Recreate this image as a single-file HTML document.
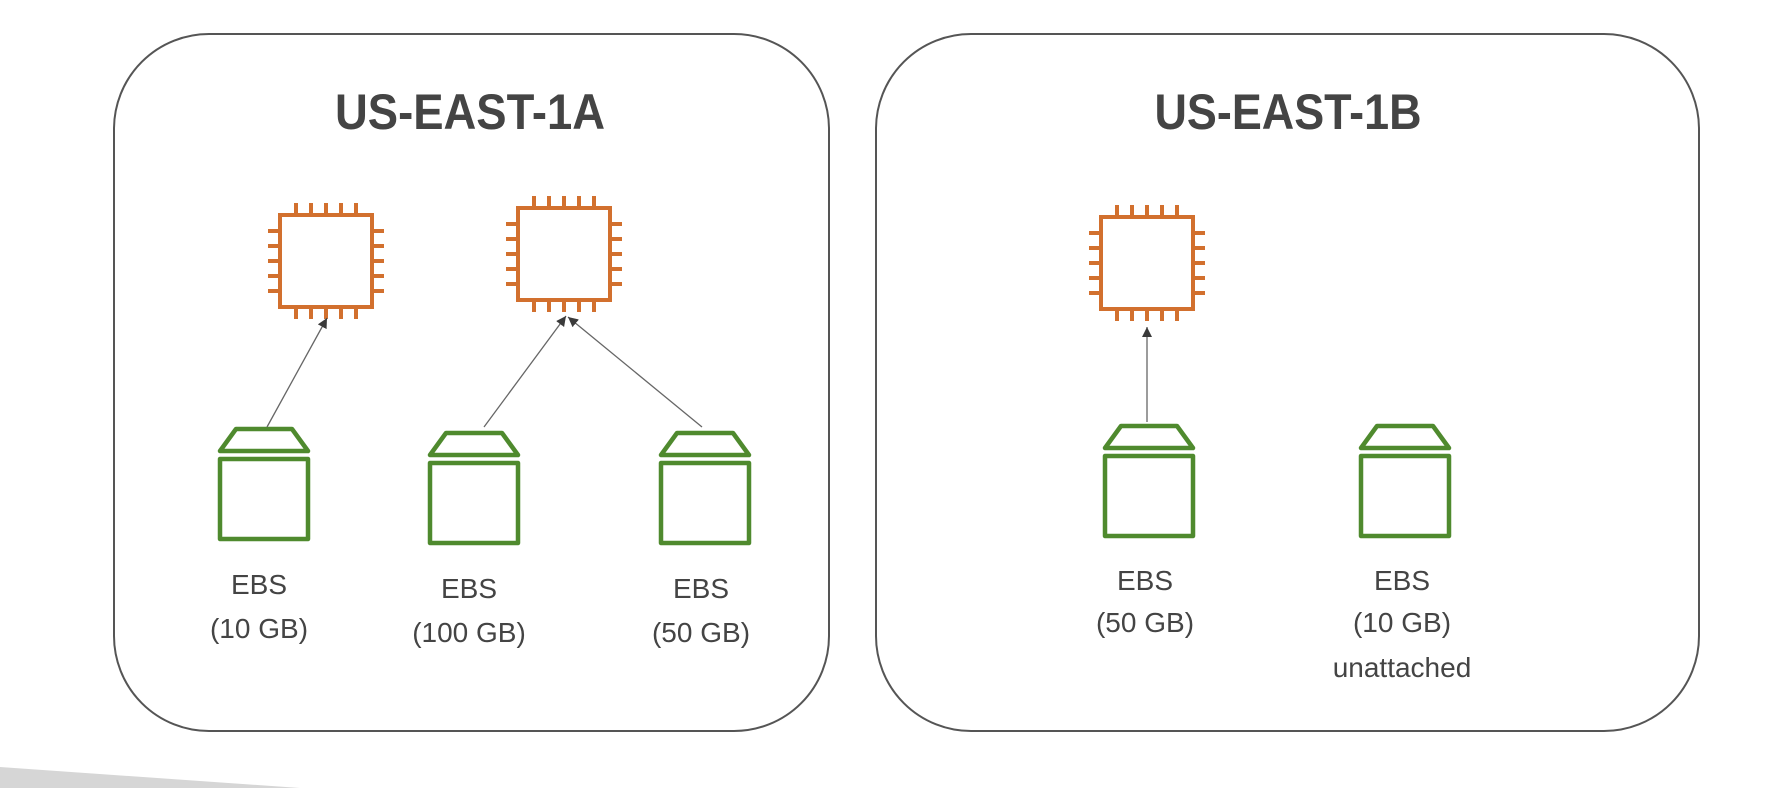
<!DOCTYPE html>
<html><head><meta charset="utf-8"><style>html,body{margin:0;padding:0;background:#fff}svg{display:block}</style></head>
<body>
<svg width="1790" height="788" viewBox="0 0 1790 788" xmlns="http://www.w3.org/2000/svg">
<defs>
<marker id="ah" viewBox="0 0 10 10" refX="10" refY="5" markerWidth="10" markerHeight="10" markerUnits="userSpaceOnUse" orient="auto">
<path d="M0,0 L10,5 L0,10 z" fill="#3a3a3a"/>
</marker>
<g id="chip" fill="none" stroke="#d2702e" stroke-width="4">
<rect x="0" y="0" width="92" height="92"/>
<path d="M16,0v-12M31,0v-12M46,0v-12M61,0v-12M76,0v-12M16,92v12M31,92v12M46,92v12M61,92v12M76,92v12M0,16h-12M0,31h-12M0,46h-12M0,61h-12M0,76h-12M92,16h12M92,31h12M92,46h12M92,61h12M92,76h12"/>
</g>
<g id="ebs" fill="none" stroke="#4f8a2e" stroke-width="4.5" stroke-linejoin="round">
<polygon points="16,0 72,0 88,22 0,22"/>
<rect x="0" y="30" width="88" height="80"/>
</g>
</defs>
<polygon points="0,767 300,788 0,788" fill="#d6d6d6"/>
<rect x="114" y="34" width="715" height="697" rx="95" ry="95" fill="none" stroke="#555" stroke-width="2"/>
<rect x="876" y="34" width="823" height="697" rx="95" ry="95" fill="none" stroke="#555" stroke-width="2"/>
<g font-family="'Liberation Sans', sans-serif" fill="#444" text-anchor="middle">
<text x="470" y="129" font-size="50" font-weight="bold" textLength="270" lengthAdjust="spacingAndGlyphs">US-EAST-1A</text>
<text x="1288" y="129" font-size="50" font-weight="bold" textLength="267" lengthAdjust="spacingAndGlyphs">US-EAST-1B</text>
</g>
<use href="#chip" x="280" y="215"/>
<use href="#chip" x="518" y="208"/>
<use href="#chip" x="1101" y="217"/>
<use href="#ebs" x="220" y="429"/>
<use href="#ebs" x="430" y="433"/>
<use href="#ebs" x="661" y="433"/>
<use href="#ebs" x="1105" y="426"/>
<use href="#ebs" x="1361" y="426"/>
<g stroke="#666" stroke-width="1.3" fill="none" marker-end="url(#ah)">
<line x1="267" y1="427" x2="327" y2="318"/>
<line x1="484" y1="427" x2="566" y2="316"/>
<line x1="702" y1="427" x2="568" y2="317"/>
<line x1="1147" y1="422" x2="1147" y2="327"/>
</g>
<g font-family="'Liberation Sans', sans-serif" font-size="28" fill="#444" text-anchor="middle">
<text x="259" y="594">EBS</text><text x="259" y="638">(10 GB)</text>
<text x="469" y="598">EBS</text><text x="469" y="642">(100 GB)</text>
<text x="701" y="598">EBS</text><text x="701" y="642">(50 GB)</text>
<text x="1145" y="590">EBS</text><text x="1145" y="632">(50 GB)</text>
<text x="1402" y="590">EBS</text><text x="1402" y="632">(10 GB)</text>
<text x="1402" y="677">unattached</text>
</g>
</svg>
</body></html>
